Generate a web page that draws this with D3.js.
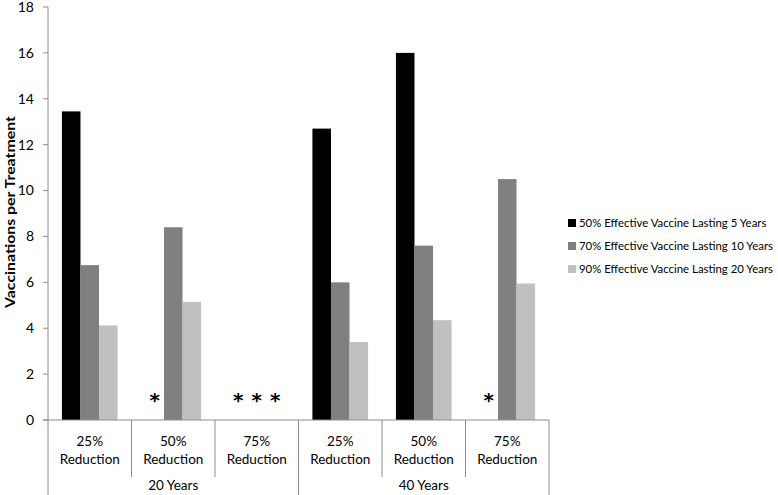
<!DOCTYPE html>
<html>
<head>
<meta charset="utf-8">
<script src="https://cdn.jsdelivr.net/npm/d3@7"></script>
<style>
  body { margin: 0; background: #fff; }
  text { font-family: Lato, "Open Sans", sans-serif; fill: #000; }
</style>
</head>
<body>
<div id="chart"></div>
<script>
// data (null = marked with an asterisk, no bar)
var groups = ["20 Years", "40 Years"];
var reductions = ["25%", "50%", "75%"];
var series = [
    "50% Effective Vaccine Lasting 5 Years",
    "70% Effective Vaccine Lasting 10 Years",
    "90% Effective Vaccine Lasting 20 Years"
];
var colors = ["#000000", "#808080", "#c0c0c0"];
var vaccine5  = [13.45, null, null, 12.7, 16.0, null];
var vaccine10 = [6.75, 8.4, null, 6.0, 7.6, 10.5];
var vaccine20 = [4.12, 5.15, null, 3.4, 4.35, 5.95];
var yTicks = [0, 2, 4, 6, 8, 10, 12, 14, 16, 18];

function init(){
    var w = 778;
    var h = 495;
    var left = 48, right = 549, top = 7, bottom = 420;

    var svg = d3.select("#chart")
                .append("svg")
                .attr("width", w)
                .attr("height", h);

    // one key per category: group + reduction
    var cats = [];
    groups.forEach(function(g){
        reductions.forEach(function(r){ cats.push(g + "|" + r); });
    });
    var values = [vaccine5, vaccine10, vaccine20];

    var x = d3.scaleBand().domain(cats).range([left, right]).padding(0);
    var xs = d3.scaleBand().domain(d3.range(series.length))
               .range([0, x.bandwidth()])
               .paddingInner(0).paddingOuter(0.75);
    var y = d3.scaleLinear().domain([0, 18]).range([bottom, top]);

    var axisColor = "#8c8c8c";

    // y axis
    svg.append("line")
       .attr("x1", left).attr("x2", left)
       .attr("y1", y(18)).attr("y2", h)
       .attr("stroke", axisColor);
    svg.selectAll(".ytick")
       .data(yTicks)
       .enter()
       .append("line")
       .attr("x1", left - 5).attr("x2", left)
       .attr("y1", function(d){ return y(d); })
       .attr("y2", function(d){ return y(d); })
       .attr("stroke", axisColor);
    svg.selectAll(".ylab")
       .data(yTicks)
       .enter()
       .append("text")
       .attr("x", 34)
       .attr("y", function(d){ return y(d); })
       .attr("dy", "0.35em")
       .attr("text-anchor", "end")
       .style("font-size", "14px")
       .text(function(d){ return d; });

    svg.append("text")
       .attr("transform", "translate(10," + 212 + ") rotate(-90)")
       .attr("text-anchor", "middle")
       .attr("dy", "0.35em")
       .attr("textLength", 192)
       .attr("lengthAdjust", "spacingAndGlyphs")
       .style("font-size", "13.5px")
       .style("font-weight", "bold")
       .text("Vaccinations per Treatment");

    // bars
    series.forEach(function(s, si){
        svg.selectAll(".bar" + si)
           .data(values[si].map(function(v, i){ return {v: v, c: cats[i]}; })
                 .filter(function(d){ return d.v !== null; }))
           .enter()
           .append("rect")
           .attr("x", function(d){ return x(d.c) + xs(si); })
           .attr("y", function(d){ return y(d.v); })
           .attr("width", xs.bandwidth())
           .attr("height", function(d){ return y(0) - y(d.v); })
           .attr("fill", colors[si]);

        // asterisks where there is no value
        svg.selectAll(".star" + si)
           .data(values[si].map(function(v, i){ return {v: v, c: cats[i]}; })
                 .filter(function(d){ return d.v === null; }))
           .enter()
           .append("text")
           .attr("x", function(d){ return x(d.c) + xs(si) + xs.bandwidth() / 2; })
           .attr("y", 407)
           .attr("text-anchor", "middle")
           .style("font-family", "'DejaVu Sans', sans-serif")
           .style("font-size", "20px")
           .style("font-weight", "bold")
           .text("*");
    });

    // x axis line
    svg.append("line")
       .attr("x1", left - 5).attr("x2", right)
       .attr("y1", bottom).attr("y2", bottom)
       .attr("stroke", axisColor);

    // category dividers
    cats.forEach(function(c, i){
        if (i === 0) return;
        var outer = (i % reductions.length === 0);
        svg.append("line")
           .attr("x1", x(c)).attr("x2", x(c))
           .attr("y1", bottom).attr("y2", outer ? h : 477)
           .attr("stroke", axisColor);
    });
    svg.append("line")
       .attr("x1", right).attr("x2", right)
       .attr("y1", bottom).attr("y2", h)
       .attr("stroke", axisColor);

    // category labels
    cats.forEach(function(c){
        var cx = x(c) + x.bandwidth() / 2;
        var lab = svg.append("text")
                     .attr("text-anchor", "middle")
                     .style("font-size", "13.5px");
        lab.append("tspan").attr("x", cx).attr("y", 446).text(c.split("|")[1]);
        lab.append("tspan").attr("x", cx).attr("y", 464).text("Reduction");
    });
    groups.forEach(function(g, gi){
        var c0 = x(g + "|" + reductions[0]);
        var c1 = x(g + "|" + reductions[reductions.length - 1]) + x.bandwidth();
        svg.append("text")
           .attr("x", (c0 + c1) / 2)
           .attr("y", 490)
           .attr("text-anchor", "middle")
           .style("font-size", "13.5px")
           .text(g);
    });

    // legend
    var legend = svg.selectAll(".legend")
                    .data(series)
                    .enter()
                    .append("g")
                    .attr("transform", function(d, i){ return "translate(568," + (223 + i * 23) + ")"; });
    legend.append("rect")
          .attr("x", 0).attr("y", -4)
          .attr("width", 8).attr("height", 8)
          .attr("fill", function(d, i){ return colors[i]; });
    legend.append("text")
          .attr("x", 11)
          .attr("dy", "0.35em")
          .style("font-size", "11.4px")
          .text(function(d){ return d; });
}
window.onload = init;
</script>
</body>
</html>
